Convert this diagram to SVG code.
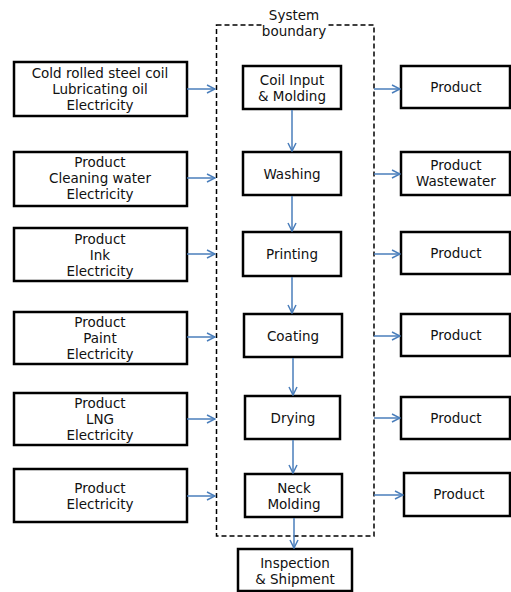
<svg xmlns="http://www.w3.org/2000/svg" width="511" height="592" viewBox="0 0 511 592">
<style>
.box{fill:#fff;stroke:#000;stroke-width:2.5}
.t{font-family:"DejaVu Sans","Liberation Sans",sans-serif;font-size:13.5px;fill:#111;text-anchor:middle}
.c{fill:none;stroke:#4a7ebb;stroke-width:1.5}
.b{fill:none;stroke:#000;stroke-width:1.5;stroke-dasharray:5,3}
</style>
<defs>
<marker id="ah" viewBox="0 0 10 10" refX="9" refY="5" markerWidth="10" markerHeight="10" markerUnits="userSpaceOnUse" orient="auto">
<path d="M1,1 L9,5 L1,9" fill="none" stroke="#4a7ebb" stroke-width="1.5"/>
</marker>
</defs>
<rect width="511" height="592" fill="#fff"/>
<g id="boundary">
<rect class="b" x="216.5" y="25" width="157.5" height="511"/>
<rect x="262" y="8" width="65" height="32" fill="#fff"/>
<text class="t" x="294" y="20">System</text>
<text class="t" x="294" y="36">boundary</text>
</g>
<g id="in1"><rect class="box" x="14" y="62" width="173" height="54"/><text class="t" x="100" y="78">Cold rolled steel coil</text><text class="t" x="100" y="94">Lubricating oil</text><text class="t" x="100" y="110">Electricity</text></g>
<g id="in2"><rect class="box" x="14" y="152" width="173" height="54"/><text class="t" x="100" y="167">Product</text><text class="t" x="100" y="183">Cleaning water</text><text class="t" x="100" y="199">Electricity</text></g>
<g id="in3"><rect class="box" x="14" y="228" width="173" height="53"/><text class="t" x="100" y="244">Product</text><text class="t" x="100" y="260">Ink</text><text class="t" x="100" y="276">Electricity</text></g>
<g id="in4"><rect class="box" x="14" y="312" width="173" height="52"/><text class="t" x="100" y="327">Product</text><text class="t" x="100" y="343">Paint</text><text class="t" x="100" y="359">Electricity</text></g>
<g id="in5"><rect class="box" x="14" y="393" width="173" height="52"/><text class="t" x="100" y="408">Product</text><text class="t" x="100" y="424">LNG</text><text class="t" x="100" y="440">Electricity</text></g>
<g id="in6"><rect class="box" x="14" y="469" width="173" height="53"/><text class="t" x="100" y="493">Product</text><text class="t" x="100" y="509">Electricity</text></g>
<g id="p1"><rect class="box" x="243" y="66" width="98" height="43"/><text class="t" x="292" y="85">Coil Input</text><text class="t" x="292" y="101">&amp; Molding</text></g>
<g id="p2"><rect class="box" x="243" y="152" width="98" height="43"/><text class="t" x="292" y="179">Washing</text></g>
<g id="p3"><rect class="box" x="243" y="232" width="98" height="44"/><text class="t" x="292" y="259">Printing</text></g>
<g id="p4"><rect class="box" x="244" y="314" width="98" height="43"/><text class="t" x="293" y="341">Coating</text></g>
<g id="p5"><rect class="box" x="245" y="396" width="95" height="43"/><text class="t" x="293" y="423">Drying</text></g>
<g id="p6"><rect class="box" x="245" y="474" width="97" height="43"/><text class="t" x="294" y="493">Neck</text><text class="t" x="294" y="509">Molding</text></g>
<g id="p7"><rect class="box" x="238" y="549" width="114" height="42"/><text class="t" x="295" y="568">Inspection</text><text class="t" x="295" y="584">&amp; Shipment</text></g>
<g id="o1"><rect class="box" x="401" y="66" width="109" height="42"/><text class="t" x="456" y="92">Product</text></g>
<g id="o2"><rect class="box" x="401" y="152" width="109" height="43"/><text class="t" x="456" y="170">Product</text><text class="t" x="456" y="186">Wastewater</text></g>
<g id="o3"><rect class="box" x="401" y="232" width="109" height="42"/><text class="t" x="456" y="258">Product</text></g>
<g id="o4"><rect class="box" x="401" y="314" width="109" height="42"/><text class="t" x="456" y="340">Product</text></g>
<g id="o5"><rect class="box" x="401" y="397" width="109" height="42"/><text class="t" x="456" y="423">Product</text></g>
<g id="o6"><rect class="box" x="404" y="473" width="106" height="43"/><text class="t" x="459" y="499">Product</text></g>
<g id="connectors">
<path class="c" marker-end="url(#ah)" d="M187,89 H215"/>
<path class="c" marker-end="url(#ah)" d="M187,178 H215"/>
<path class="c" marker-end="url(#ah)" d="M187,254 H215"/>
<path class="c" marker-end="url(#ah)" d="M187,337 H215"/>
<path class="c" marker-end="url(#ah)" d="M187,419 H215"/>
<path class="c" marker-end="url(#ah)" d="M187,496 H215"/>
<path class="c" marker-end="url(#ah)" d="M374,89 H400"/>
<path class="c" marker-end="url(#ah)" d="M374,174 H400"/>
<path class="c" marker-end="url(#ah)" d="M374,254 H400"/>
<path class="c" marker-end="url(#ah)" d="M374,336 H400"/>
<path class="c" marker-end="url(#ah)" d="M374,418 H400"/>
<path class="c" marker-end="url(#ah)" d="M374,495 H403"/>
<path class="c" marker-end="url(#ah)" d="M292,110 V151"/>
<path class="c" marker-end="url(#ah)" d="M292,196 V231"/>
<path class="c" marker-end="url(#ah)" d="M292,277 V313"/>
<path class="c" marker-end="url(#ah)" d="M293,358 V395"/>
<path class="c" marker-end="url(#ah)" d="M293,440 V473"/>
<path class="c" marker-end="url(#ah)" d="M294,518 V548"/>
</g>
</svg>
